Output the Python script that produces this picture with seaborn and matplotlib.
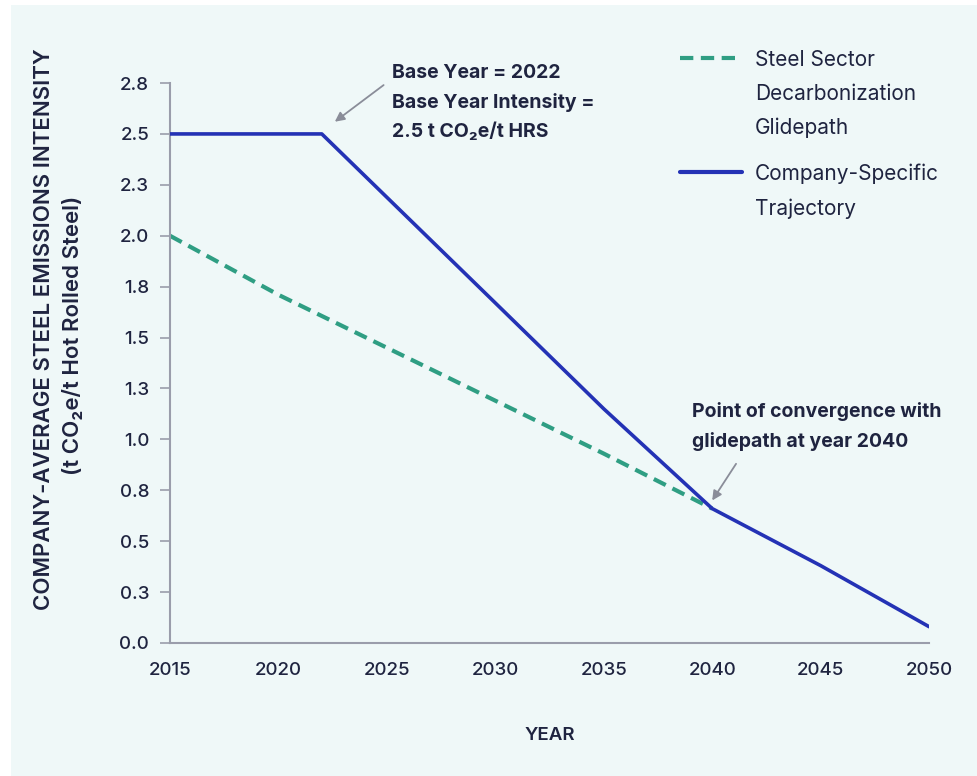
import matplotlib
matplotlib.use("Agg")
import matplotlib.pyplot as plt
from matplotlib.patches import Rectangle
from matplotlib.lines import Line2D
import seaborn as sns
import pandas as pd

# Emissions intensity pathways (t CO2e per t hot rolled steel)
glide_years = [2015, 2020, 2025, 2030, 2035, 2040]
glide_values = [2.00, 1.71, 1.45, 1.19, 0.93, 0.66]

company_years = [2015, 2022, 2030, 2035, 2040, 2045, 2050]
company_values = [2.50, 2.50, 1.67, 1.15, 0.66, 0.38, 0.08]

y_ticks = [0.0, 0.25, 0.5, 0.75, 1.0, 1.25, 1.5, 1.75, 2.0, 2.25, 2.5, 2.75]
y_tick_labels = ["0.0", "0.3", "0.5", "0.8", "1.0", "1.3", "1.5", "1.8", "2.0", "2.3", "2.5", "2.8"]
x_ticks = [2015, 2020, 2025, 2030, 2035, 2040, 2045, 2050]

glide_label = "Steel Sector\nDecarbonization\nGlidepath"
company_label = "Company-Specific\nTrajectory"

BG = "#eff8f8"
INK = "#1f2440"
BLUE = "#2432b5"
GREEN = "#2f9e83"
AXIS = "#9a9dab"
ARROW = "#8a8d99"
DASH = (0, (3.2, 1.8))

sns.set_style("white")
plt.rcParams["font.family"] = ["Inter", "DejaVu Sans"]
plt.rcParams["text.color"] = INK

glide_df = pd.DataFrame({"year": glide_years, "value": glide_values})
company_df = pd.DataFrame({"year": company_years, "value": company_values})

fig = plt.figure(figsize=(9.78, 7.76), dpi=100, facecolor="white")
fig.patches.append(Rectangle((0.011, 0.0), 0.989, 0.993, transform=fig.transFigure,
                             facecolor=BG, edgecolor="none", zorder=-10))
ax = fig.add_axes([0.1738, 0.1714, 0.7762, 0.7216])
ax.set_facecolor(BG)

sns.lineplot(data=glide_df, x="year", y="value", ax=ax, color=GREEN,
             linewidth=3.0, linestyle=DASH, zorder=2)
sns.lineplot(data=company_df, x="year", y="value", ax=ax, color=BLUE,
             linewidth=2.6, zorder=3)

ax.set_xlim(2015, 2050)
ax.set_ylim(0, 2.75)
ax.set_xticks(x_ticks)
ax.set_xticklabels([str(x) for x in x_ticks], fontsize=13.5, color=INK, fontweight="medium")
ax.set_yticks(y_ticks)
ax.set_yticklabels(y_tick_labels, fontsize=13.5, color=INK, fontweight="medium")
ax.tick_params(axis="y", length=7, width=1.2, color=AXIS, pad=8, left=True)
ax.tick_params(axis="x", length=0, pad=14)

for side in ["top", "right"]:
    ax.spines[side].set_visible(False)
for side in ["left", "bottom"]:
    ax.spines[side].set_color(AXIS)
    ax.spines[side].set_linewidth(1.5)

ax.set_xlabel("YEAR", fontsize=13.5, color=INK, labelpad=34, fontweight="semibold")
ax.set_ylabel("")
fig.text(0.045, 0.576, "COMPANY-AVERAGE STEEL EMISSIONS INTENSITY", rotation=90,
         ha="center", va="center", fontsize=16, fontweight="semibold", color=INK)
fig.text(0.074, 0.568, "(t CO\u2082e/t Hot Rolled Steel)", rotation=90,
         ha="center", va="center", fontsize=16, fontweight="semibold", color=INK)

# Base year callout
ax.text(2025.25, 2.80, "Base Year = 2022", fontsize=14, fontweight="bold",
        color=INK, ha="left", va="center", clip_on=False)
ax.text(2025.25, 2.655, "Base Year Intensity =", fontsize=14, fontweight="bold",
        color=INK, ha="left", va="center")
ax.text(2025.25, 2.51, "2.5 t CO\u2082e/t HRS", fontsize=14, fontweight="bold",
        color=INK, ha="left", va="center")
ax.annotate("", xy=(2022.6, 2.56), xytext=(2024.85, 2.74),
            arrowprops=dict(arrowstyle="-|>", color=ARROW, lw=1.3,
                            mutation_scale=14, shrinkA=0, shrinkB=0))

# Convergence callout
ax.text(2039.07, 1.136, "Point of convergence with", fontsize=14, fontweight="bold",
        color=INK, ha="left", va="center")
ax.text(2039.07, 0.99, "glidepath at year 2040", fontsize=14, fontweight="bold",
        color=INK, ha="left", va="center")
ax.annotate("", xy=(2040.0, 0.70), xytext=(2041.1, 0.88),
            arrowprops=dict(arrowstyle="-|>", color=ARROW, lw=1.3,
                            mutation_scale=14, shrinkA=0, shrinkB=0))

# Legend keys aligned with the first line of each label
H = 776.0
W = 978.0
legend_rows = [
    (58, GREEN, DASH, glide_label),
    (172, BLUE, "-", company_label),
]
for ypix, color, style, label in legend_rows:
    yf = 1 - ypix / H
    fig.add_artist(Line2D([680 / W, 742 / W], [yf, yf], transform=fig.transFigure,
                          color=color, lw=3.0, linestyle=style))
    fig.text(755 / W, yf + 8 / H, label, ha="left", va="top", fontsize=15,
             color=INK, linespacing=1.85)

fig.savefig("out.png", dpi=100, facecolor=fig.get_facecolor())
